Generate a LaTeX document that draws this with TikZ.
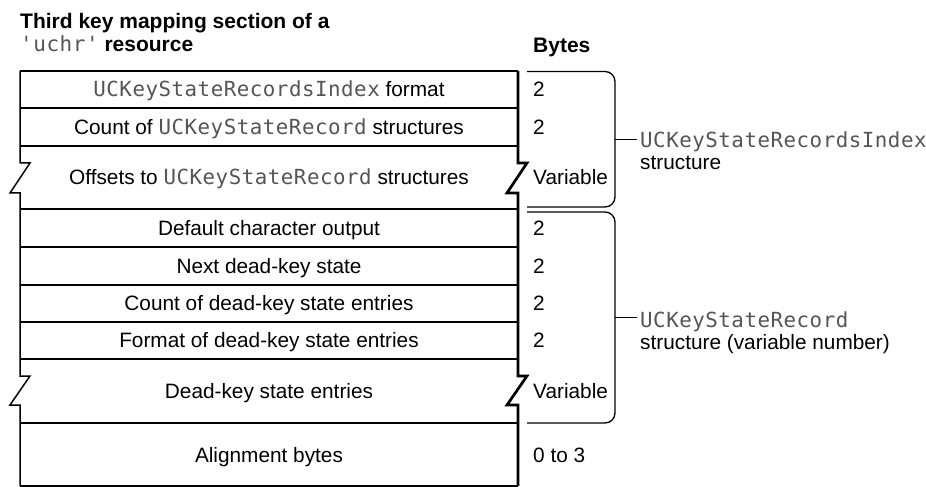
\documentclass[tikz,border=0pt]{standalone}
\usepackage{fontspec}
\setmainfont{Liberation Sans}
\setmonofont{DejaVu Sans Mono}[LetterSpace=2.5]
\definecolor{codegray}{HTML}{555555}
\newcommand\cod[1]{{\ttfamily\color{codegray}#1}}
\begin{document}
\begin{tikzpicture}[x=1bp,y=-1bp,
  body/.style={font=\fontsize{20.8bp}{22bp}\selectfont, inner sep=0pt},
  cell/.style={body, anchor=base},
  bytes/.style={body, anchor=base west},
  lbl/.style={body, anchor=base west},
  ttl/.style={font=\bfseries\fontsize{21bp}{23bp}\selectfont, inner sep=0pt, anchor=base west},
  rowline/.style={line width=1.3bp},
  leftline/.style={line width=1.5bp},
  rightline/.style={line width=2.7bp},
  bracket/.style={line width=1.3bp, rounded corners=10bp},
  tick/.style={line width=1.3bp},
]
\useasboundingbox (0,0) rectangle (926,487);

% title
\node[ttl] (t1) at (20,29) {Third key mapping section of a};
\node[ttl] (t2) at (20,52) {\cod{\mdseries 'uchr'} resource};
\node[ttl] (by) at (533,53) {Bytes};

% row lines
\foreach \yy in {71,108,146,209,247,285,322,359,423,486}
  \draw[rowline] (20,\yy) -- (518,\yy);

% left and right edges with breaks
\draw[leftline] (20,71) -- (20,163) -- (30,163) -- (10,193) -- (20,193)
  -- (20,376) -- (30,376) -- (10,405) -- (20,405) -- (20,486);
\draw[rightline] (518,71) -- (518,163) -- (527,163) -- (507,193) -- (518,193)
  -- (518,376) -- (527,376) -- (507,405) -- (518,405) -- (518,486);

% cells
\node[cell] (c1) at (269,97) {\cod{UCKeyStateRecordsIndex} format};
\node[cell] (c2) at (269,134.5) {Count of \cod{UCKeyStateRecord} structures};
\node[cell] (c3) at (269,185) {Offsets to \cod{UCKeyStateRecord} structures};
\node[cell] (c4) at (269,236) {Default character output};
\node[cell] (c5) at (269,273.5) {Next dead-key state};
\node[cell] (c6) at (269,311) {Count of dead-key state entries};
\node[cell] (c7) at (269,348) {Format of dead-key state entries};
\node[cell] (c8) at (269,398.5) {Dead-key state entries};
\node[cell] (c9) at (269,462) {Alignment bytes};

% bytes
\node[bytes] (b1) at (533,97) {2};
\node[bytes] (b2) at (533,134.5) {2};
\node[bytes] (b3) at (533,185) {Variable};
\node[bytes] (b4) at (533,236) {2};
\node[bytes] (b5) at (533,273.5) {2};
\node[bytes] (b6) at (533,311) {2};
\node[bytes] (b7) at (533,348) {2};
\node[bytes] (b8) at (533,398.5) {Variable};
\node[bytes] (b9) at (533,462) {0 to 3};

% brackets
\draw[bracket] (527,71.5) -| (615,207) -- (527,207);
\draw[bracket] (527,212) -| (615,423) -- (527,423);

% labels
\node[lbl] (l1a) at (640,148) {\cod{UCKeyStateRecordsIndex}};
\node[lbl] (l1b) at (640,170) {structure};
\node[lbl] (l2a) at (640,328) {\cod{UCKeyStateRecord}};
\node[lbl] (l2b) at (640,350) {structure (variable number)};

\coordinate (k1) at (615,139.5);
\coordinate (k1e) at (637,139.5);
\coordinate (k2) at (615,317.5);
\coordinate (k2e) at (637,317.5);
\draw[tick] (k1) -- (k1e);
\draw[tick] (k2) -- (k2e);
\end{tikzpicture}
\end{document}
